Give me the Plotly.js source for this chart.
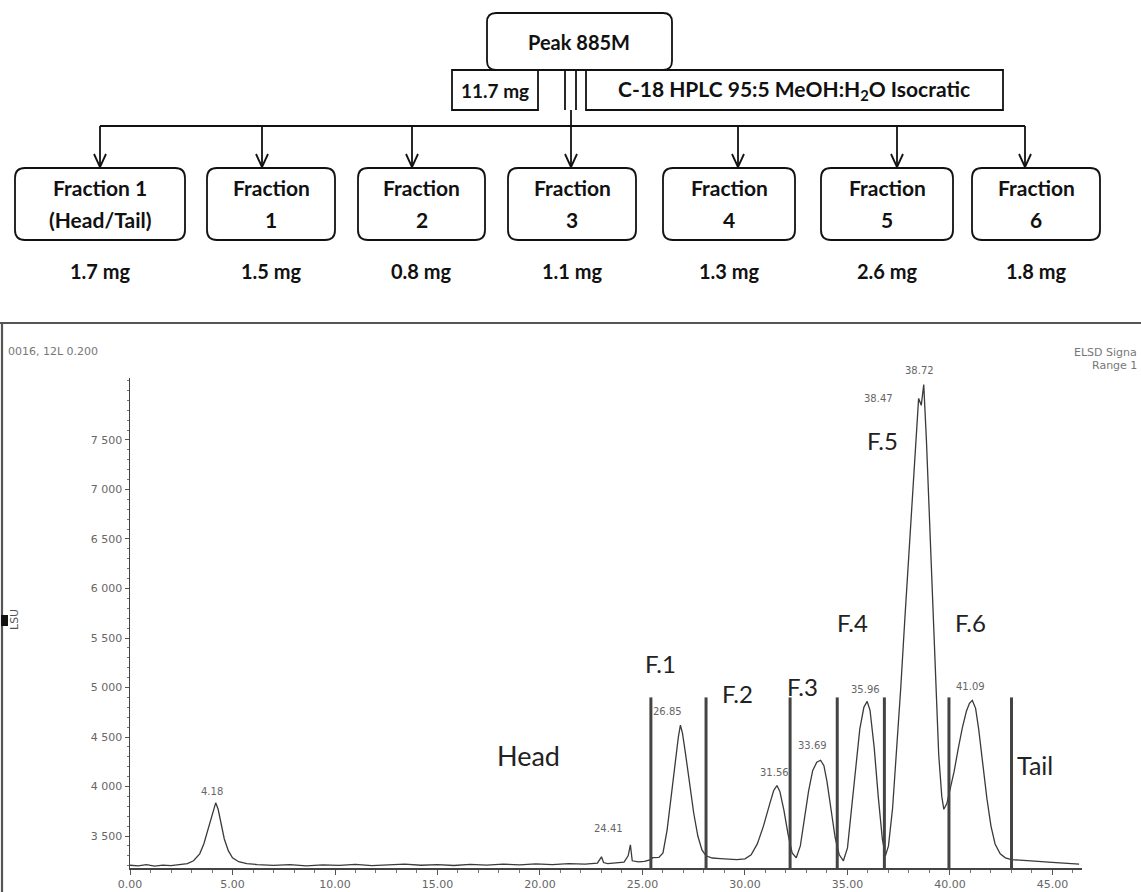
<!DOCTYPE html>
<html>
<head>
<meta charset="utf-8">
<script src="https://cdn.plot.ly/plotly-3.0.1.min.js"></script>
<style>
  html, body { margin: 0; padding: 0; background: #ffffff; }
  #chart { width: 1141px; height: 892px; }
</style>
</head>
<body>
<div id="chart"></div>
<script>
// ---- Chromatogram data: retention time (min) and ELSD response (LSU) ----
const retentionTime = [
  0.0, 0.4, 0.8, 1.2, 1.6, 2.0, 2.4, 2.8, 3.1, 3.4, 3.6, 3.8, 4.0, 4.1, 4.18, 4.3, 4.45, 4.6, 4.8, 5.0, 5.3, 5.7, 6.2,
  7.0, 7.8, 8.6, 9.4, 10.2, 11.0, 11.8, 12.6, 13.4, 14.2, 15.0, 15.8, 16.6, 17.4, 18.2, 19.0, 19.8, 20.6, 21.4, 22.2, 22.8,
  23.0, 23.1, 23.3, 23.7, 24.1, 24.3, 24.41, 24.5, 24.8, 25.1, 25.4, 25.5, 25.8,
  26.0, 26.2, 26.4, 26.6, 26.75, 26.85, 26.95, 27.1, 27.3, 27.5, 27.7, 27.9, 28.1, 28.4, 28.8, 29.2, 29.6,
  30.0, 30.3, 30.6, 30.9, 31.2, 31.4, 31.56, 31.7, 31.9, 32.1, 32.3, 32.5, 32.7, 32.9, 33.1, 33.3, 33.5, 33.69, 33.85, 34.0, 34.2, 34.4, 34.6, 34.8,
  35.0, 35.2, 35.4, 35.6, 35.8, 35.96, 36.1, 36.3, 36.5, 36.7, 36.85,
  37.0, 37.2, 37.4, 37.6, 37.8, 38.0, 38.2, 38.35, 38.47, 38.6, 38.72, 38.85, 39.0, 39.15, 39.3, 39.45, 39.6, 39.7,
  39.85, 40.0, 40.2, 40.4, 40.6, 40.8, 40.95, 41.09, 41.25, 41.4, 41.6, 41.8, 42.0, 42.2, 42.45, 42.7, 43.0, 43.4, 43.8, 44.3, 44.8, 45.3, 45.8, 46.3
];
const signal = [
  3205, 3198, 3210, 3196, 3206, 3201, 3212, 3222, 3250, 3320, 3420, 3560, 3710, 3790, 3835, 3770, 3620, 3470, 3350, 3280, 3240, 3222, 3212,
  3204, 3212, 3199, 3209, 3203, 3214, 3201, 3208, 3216, 3205, 3211, 3202, 3213, 3207, 3217, 3209, 3219, 3212, 3222, 3216, 3226,
  3290, 3232, 3222, 3228, 3236, 3300, 3410, 3250, 3238, 3244, 3262, 3282, 3284,
  3330, 3560, 3900, 4250, 4500, 4620, 4540, 4330, 4020, 3730, 3500, 3360, 3300, 3278, 3272, 3266, 3262,
  3270, 3310, 3420, 3600, 3820, 3960, 4010, 3950, 3760, 3520, 3330, 3280, 3400, 3660, 3950, 4160, 4245, 4265, 4210, 4050, 3760, 3480, 3310, 3250,
  3380, 3760, 4200, 4580, 4800, 4860, 4770, 4400, 3900, 3470, 3300,
  3400, 3780, 4350, 5000, 5700, 6400, 7050, 7500, 7920, 7850, 8060, 7500, 6700, 5800, 4950, 4320, 3900, 3770,
  3830, 3960, 4150, 4380, 4590, 4760, 4840, 4870, 4790, 4580, 4230, 3880, 3600, 3420, 3320, 3280, 3262, 3258, 3250, 3244, 3236, 3230, 3222, 3216
];

// Integrated peaks (retention times printed above each apex)
const peakTimes  = [4.18, 24.41, 26.85, 31.56, 33.69, 35.96, 38.47, 38.72, 41.09];
const peakLabels = ['4.18', '24.41', '26.85', '31.56', '33.69', '35.96', '38.47', '38.72', '41.09'];

// Fraction collection cut points (min)
const cutTimes = [25.41, 28.1, 32.2, 34.5, 36.8, 39.95, 43.0];

// Fraction scheme
const sourceName = 'Peak 885M';
const sourceMass = '11.7 mg';
const methodText = 'C-18 HPLC 95:5 MeOH:H<sub>2</sub>O Isocratic';
const fractionLine1 = ['Fraction 1', 'Fraction', 'Fraction', 'Fraction', 'Fraction', 'Fraction', 'Fraction'];
const fractionLine2 = ['(Head/Tail)', '1', '2', '3', '4', '5', '6'];
const fractionMass  = ['1.7 mg', '1.5 mg', '0.8 mg', '1.1 mg', '1.3 mg', '2.6 mg', '1.8 mg'];

// Region labels on the trace
const regionNames = ['F.1', 'F.2', 'F.3', 'F.4', 'F.5', 'F.6', 'Head', 'Tail'];

// Axis ticks
const xTickVals = [0, 5, 10, 15, 20, 25, 30, 35, 40, 45];
const xTickText = ['0.00', '5.00', '10.00', '15.00', '20.00', '25.00', '30.00', '35.00', '40.00', '45.00'];
const yTickVals = [3500, 4000, 4500, 5000, 5500, 6000, 6500, 7000, 7500];
const yTickText = ['3 500', '4 000', '4 500', '5 000', '5 500', '6 000', '6 500', '7 000', '7 500'];

// ---- Page geometry (pixels) ----
const W = 1141, H = 892;
const PL = 130, PR = 1082, PT = 378, PB = 868;
const X_RANGE = [0, 46.44];
const Y_RANGE = [3177, 8126];
const fx = px => (px - PL) / (PR - PL);       // pixel -> paper x
const fy = py => (PB - py) / (PB - PT);       // pixel -> paper y

const INK = '#111111';
const shapes = [];
const annotations = [];

function line(x0, y0, x1, y1, w, color) {
  shapes.push({type: 'line', xref: 'paper', yref: 'paper',
    x0: fx(x0), y0: fy(y0), x1: fx(x1), y1: fy(y1),
    line: {color: color || INK, width: w || 1.8}});
}
function rect(x0, y0, x1, y1) {
  shapes.push({type: 'rect', xref: 'paper', yref: 'paper',
    x0: fx(x0), y0: fy(y0), x1: fx(x1), y1: fy(y1),
    line: {color: INK, width: 1.8}, fillcolor: 'rgba(0,0,0,0)'});
}
function roundRect(x0, y0, x1, y1, r) {
  const P = (x, y) => fx(x) + ',' + fy(y);
  const path = 'M' + P(x0 + r, y0) + ' L' + P(x1 - r, y0) + ' Q' + P(x1, y0) + ' ' + P(x1, y0 + r) +
    ' L' + P(x1, y1 - r) + ' Q' + P(x1, y1) + ' ' + P(x1 - r, y1) +
    ' L' + P(x0 + r, y1) + ' Q' + P(x0, y1) + ' ' + P(x0, y1 - r) +
    ' L' + P(x0, y0 + r) + ' Q' + P(x0, y0) + ' ' + P(x0 + r, y0) + ' Z';
  shapes.push({type: 'path', xref: 'paper', yref: 'paper', path: path,
    line: {color: INK, width: 1.8}, fillcolor: 'rgba(0,0,0,0)'});
}
function arrowDown(x, yTop, yTip) {
  line(x, yTop, x, yTip);
  line(x - 6, yTip - 13, x, yTip);
  line(x + 6, yTip - 13, x, yTip);
}
function label(text, px, py, size, opts) {
  opts = opts || {};
  annotations.push({xref: 'paper', yref: 'paper', x: fx(px), y: fy(py), text: text,
    showarrow: false, xanchor: opts.xanchor || 'center', yanchor: 'middle',
    textangle: opts.angle || 0,
    font: {family: opts.family || 'Lato, "Open Sans", sans-serif', size: size,
           color: opts.color || INK, weight: opts.weight || 'normal'}});
}

// ---- Fraction scheme (top) ----
roundRect(487, 13, 672, 70, 9);
label(sourceName, 579, 42, 20, {weight: 'bold'});
rect(452, 70, 538, 110);
label(sourceMass, 495, 90, 19, {weight: 'bold'});
rect(586, 70, 1003, 110);
label(methodText, 794, 90, 21, {weight: 'bold'});
line(565, 70, 565, 110);
line(576, 70, 576, 110);

const boxEdges = [[15, 185], [207, 335], [358, 485], [508, 636], [663, 795], [821, 953], [972, 1100]];
const arrowX = [100, 262, 412, 571, 738, 897, 1025];
const busY = 126;
line(arrowX[0], busY, arrowX[arrowX.length - 1], busY);
line(571, 110, 571, busY);
boxEdges.forEach((b, i) => {
  arrowDown(arrowX[i], busY, 167);
  roundRect(b[0], 168, b[1], 240, 10);
  const cx = (b[0] + b[1]) / 2;
  label(fractionLine1[i], cx, 187, 21, {weight: 'bold'});
  label(fractionLine2[i], cx, 220, 21, {weight: 'bold'});
  label(fractionMass[i], cx, 271, 20, {weight: 'bold'});
});

// ---- Chromatogram frame and header ----
line(0, 323, W, 323, 2.2, '#555555');
line(2, 323, 2, H, 2.2, '#555555');
label('0016, 12L 0.200', 6, 351, 11, {xanchor: 'left', family: '"DejaVu Sans", sans-serif', color: '#777777'});
label('ELSD Signa', 1139, 352, 11, {xanchor: 'right', family: '"DejaVu Sans", sans-serif', color: '#777777'});
label('Range 1', 1139, 366, 11, {xanchor: 'right', family: '"DejaVu Sans", sans-serif', color: '#777777'});
label('LSU', 14, 620, 11, {angle: -90, family: '"DejaVu Sans", sans-serif', color: '#555555'});
shapes.push({type: 'rect', xref: 'paper', yref: 'paper', x0: fx(1), x1: fx(8), y0: fy(626), y1: fy(615),
  line: {width: 0}, fillcolor: '#111111'});

// Fraction cut lines (data coordinates)
cutTimes.forEach(t => {
  shapes.push({type: 'line', xref: 'x', yref: 'y', x0: t, x1: t, y0: Y_RANGE[0], y1: 4900,
    line: {color: '#444444', width: 3}});
});

// Peak retention-time labels placed relative to each apex
const peakOffsets = {
  '4.18': [-4, 11], '24.41': [-22, 16], '26.85': [-13, 14], '31.56': [-2, 13], '33.69': [-8, 15],
  '35.96': [-2, 12], '38.47': [-40, 0], '38.72': [-4, 14], '41.09': [-2, 14]
};
peakTimes.forEach((t, i) => {
  const v = signal[retentionTime.indexOf(t)];
  const off = peakOffsets[peakLabels[i]];
  annotations.push({xref: 'x', yref: 'y', x: t, y: v, text: peakLabels[i], showarrow: false,
    xshift: off[0], yshift: off[1], xanchor: 'center', yanchor: 'middle',
    font: {family: '"DejaVu Sans", sans-serif', size: 10, color: '#666666'}});
});

// Region labels
const regionPos = [[660, 663, 24], [737, 693, 24], [802, 686, 24], [852, 622, 24],
                   [882, 440, 24], [970, 622, 24], [528, 755, 27], [1035, 765, 25]];
regionNames.forEach((n, i) => {
  label(n, regionPos[i][0], regionPos[i][1], regionPos[i][2], {color: '#222222'});
});

const trace = {
  x: retentionTime, y: signal, type: 'scatter', mode: 'lines',
  line: {color: '#3a3a3a', width: 1.3}, hoverinfo: 'skip'
};

const tickFont = {family: '"DejaVu Sans", sans-serif', size: 11, color: '#666666'};
const layout = {
  width: W, height: H,
  margin: {l: PL, r: W - PR, t: PT, b: H - PB, pad: 0},
  paper_bgcolor: '#ffffff', plot_bgcolor: '#ffffff',
  showlegend: false,
  xaxis: {
    range: X_RANGE, tickvals: xTickVals, ticktext: xTickText, tickfont: tickFont,
    ticks: 'outside', ticklen: 5, tickcolor: '#555555', tickwidth: 1,
    minor: {dtick: 1, ticks: 'outside', ticklen: 3, tickcolor: '#777777'},
    showline: true, linecolor: '#444444', linewidth: 1.5,
    showgrid: false, zeroline: false, fixedrange: true
  },
  yaxis: {
    range: Y_RANGE, tickvals: yTickVals, ticktext: yTickText, tickfont: tickFont,
    ticks: 'outside', ticklen: 4, tickcolor: '#555555',
    minor: {dtick: 100, ticks: 'outside', ticklen: 2, tickcolor: '#777777'},
    showline: true, linecolor: '#444444', linewidth: 1.5,
    showgrid: false, zeroline: false, fixedrange: true
  },
  shapes: shapes,
  annotations: annotations
};

Plotly.newPlot('chart', [trace], layout, {displayModeBar: false, staticPlot: true});
</script>
</body>
</html>
